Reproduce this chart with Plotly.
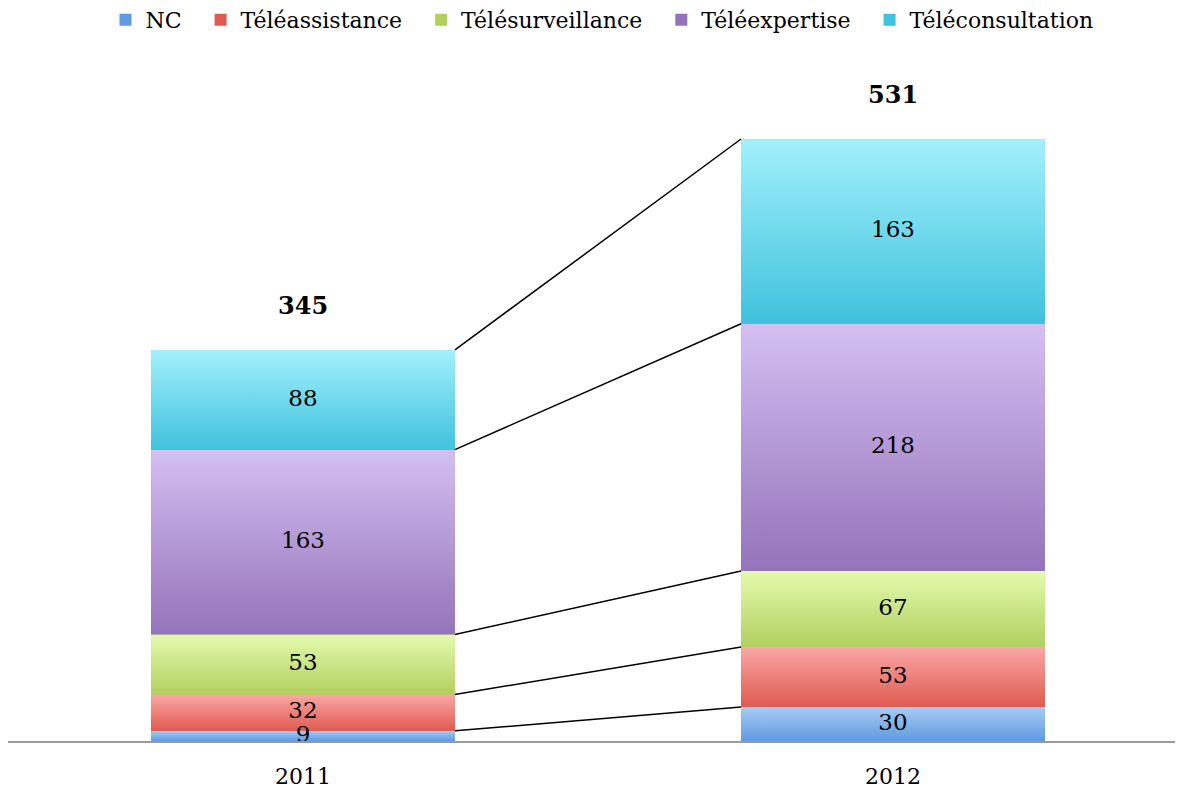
import plotly.graph_objects as go
import numpy as np

# data
years = ["2011", "2012"]
series = ["NC", "Téléassistance", "Télésurveillance", "Téléexpertise", "Téléconsultation"]
nc = [9, 30]
teleassistance = [32, 53]
telesurveillance = [53, 67]
teleexpertise = [163, 218]
teleconsultation = [88, 163]
totals = [345, 531]

values = [nc, teleassistance, telesurveillance, teleexpertise, teleconsultation]

# (bottom colour, top colour) of each gradient
colors = [
    ("#5f9be0", "#a7cbf6"),
    ("#df5a50", "#fba8a5"),
    ("#b1d05e", "#e4fbae"),
    ("#9473ba", "#d4c0f1"),
    ("#3fc2dd", "#a2f1fc"),
]

FONT = "DejaVu Serif"
x_pos = [0, 1]
bar_w = 0.515
PAD = "\u00a0" * 2  # extra room between legend entries

fig = go.Figure()

# plain bars underneath (legend + base)
for name, vals, (c0, c1) in zip(series, values, colors):
    fig.add_trace(go.Bar(
        x=x_pos, y=vals, name=name + PAD, width=bar_w,
        marker=dict(color=c0, line=dict(width=0)),
        hovertext=[name] * 2, hoverinfo="x+y+text",
    ))

# gradient overlay for each segment
cum = np.zeros(2)
mids = []
for name, vals, (c0, c1) in zip(series, values, colors):
    for i, xp in enumerate(x_pos):
        y0 = cum[i]
        y1 = cum[i] + vals[i]
        fig.add_trace(go.Scatter(
            x=[xp - bar_w / 2, xp + bar_w / 2, xp + bar_w / 2, xp - bar_w / 2, xp - bar_w / 2],
            y=[y0, y0, y1, y1, y0],
            mode="lines", line=dict(width=0),
            fill="toself",
            fillgradient=dict(type="vertical", colorscale=[[0, c0], [1, c1]]),
            showlegend=False, hoverinfo="skip",
        ))
        mids.append((xp, (y0 + y1) / 2, vals[i]))
    cum = cum + np.array(vals)

# connector lines between bars
cum = np.zeros(2)
for vals in values:
    cum = cum + np.array(vals)
    fig.add_trace(go.Scatter(
        x=[x_pos[0] + bar_w / 2, x_pos[1] - bar_w / 2],
        y=list(cum),
        mode="lines", line=dict(color="black", width=1.5),
        showlegend=False, hoverinfo="skip",
    ))

# segment labels
fig.add_trace(go.Scatter(
    x=[m[0] for m in mids], y=[m[1] for m in mids],
    text=[str(m[2]) for m in mids], mode="text",
    textfont=dict(family=FONT, size=23, color="black"),
    showlegend=False, hoverinfo="skip",
))

# totals
for xp, t in zip(x_pos, totals):
    fig.add_annotation(
        x=xp, y=t, text="<b>%d</b>" % t, showarrow=False,
        yanchor="bottom", yshift=28,
        font=dict(family=FONT, size=24, color="black"),
    )

fig.update_layout(
    width=1183, height=789,
    margin=dict(l=0, r=16, t=52, b=56, autoexpand=False),
    barmode="stack",
    plot_bgcolor="white", paper_bgcolor="white",
    font=dict(family=FONT, size=22, color="black"),
    legend=dict(
        orientation="h", x=0.515, xanchor="center",
        yref="container", y=0.985, yanchor="middle",
        font=dict(family=FONT, size=22),
        itemwidth=30, traceorder="normal",
    ),
    xaxis=dict(
        range=[-0.5, 1.478], tickvals=x_pos, ticktext=years,
        showgrid=False, zeroline=False, automargin=False,
        showline=True, linecolor="#9a9a9a", linewidth=2,
        ticks="", ticklabelstandoff=15,
        tickfont=dict(family=FONT, size=22),
    ),
    yaxis=dict(
        range=[0, 600.7], visible=False, showgrid=False, zeroline=False,
        automargin=False,
    ),
)

fig.write_html("out.html")
